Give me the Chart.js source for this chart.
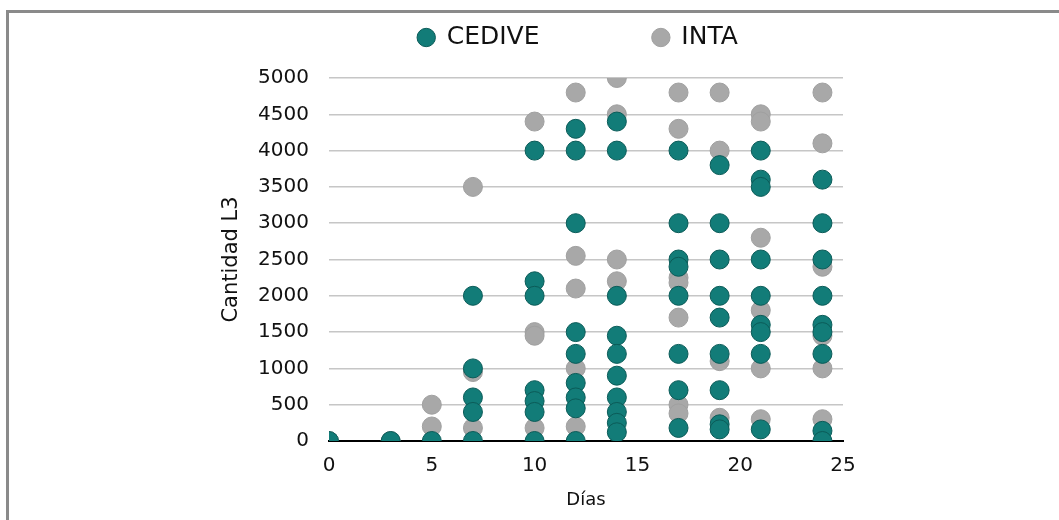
<!DOCTYPE html>
<html>
<head>
<meta charset="utf-8">
<script src="https://cdn.jsdelivr.net/npm/chart.js@4"></script>
<style>
  body { margin: 0; background: #fff; }
  #wrap { position: relative; width: 1059px; height: 520px; overflow: hidden; }
  #frame { position: absolute; left: 6px; top: 10px; right: -10px; bottom: -10px;
           border-top: 3px solid #8a8a8a; border-left: 3px solid #8a8a8a; pointer-events: none; }
</style>
</head>
<body>
<div id="wrap">
  <canvas id="chart-1"></canvas>
  <div id="frame"></div>
</div>
<script>
// ---------------------------- datos ----------------------------
// días de muestreo
const dias = [0, 3, 5, 7, 10, 12, 14, 17, 19, 21, 24];

// cantidad L3 por día (un array por día)
const cedive = [
  [0],
  [0],
  [0],
  [2000, 1000, 600, 400, 0],
  [4000, 2200, 2000, 700, 550, 400, 0],
  [4300, 4000, 3000, 1500, 1200, 800, 600, 450, 0],
  [4400, 4000, 2000, 1450, 1200, 900, 600, 400, 250, 120],
  [4000, 3000, 2500, 2400, 2000, 1200, 700, 180],
  [3800, 3000, 2500, 2000, 1700, 1200, 700, 230, 160],
  [4000, 3600, 3500, 2500, 2000, 1600, 1500, 1200, 160],
  [3600, 3000, 2500, 2000, 1600, 1500, 1200, 140, 0]
];

const inta = [
  [0],
  [0],
  [500, 200],
  [3500, 950, 180],
  [4400, 1500, 1450, 180],
  [4800, 2550, 2100, 1000, 200],
  [5000, 4500, 2500, 2200],
  [4800, 4300, 2250, 2180, 1700, 500, 380],
  [4800, 4000, 1100, 320],
  [4500, 4400, 2800, 1800, 1000, 300],
  [4800, 4100, 2400, 1450, 1000, 300]
];

const series = ['CEDIVE', 'INTA'];

// pasar a puntos {x, y}
function toPoints(valores) {
  let pts = [];
  for (let i = 0; i < dias.length; i++) {
    for (let j = 0; j < valores[i].length; j++) {
      pts.push({ x: dias[i], y: valores[i][j] });
    }
  }
  return pts;
}

const fuente = 'DejaVu Sans';

// mas aire entre la leyenda y el grafico
const legendMargin = {
  id: 'legendMargin',
  beforeInit(chart) {
    const fitValue = chart.legend.fit;
    chart.legend.fit = function fit() {
      fitValue.bind(chart.legend)();
      this.height += 18;
    };
  }
};

// ---------------------------- grafico ----------------------------
const ctx = document.getElementById('chart-1');
new Chart(ctx, {
  type: 'scatter',
  data: {
    datasets: [
      {
        label: series[0],
        data: toPoints(cedive),
        backgroundColor: '#127c78',
        borderColor: '#0b5b58',
        borderWidth: 1,
        pointRadius: 9.5,
        pointHoverRadius: 9.5
      },
      {
        label: series[1],
        data: toPoints(inta),
        backgroundColor: '#a8a8a8',
        borderColor: '#a0a0a0',
        borderWidth: 1,
        pointRadius: 9.5,
        pointHoverRadius: 9.5
      }
    ]
  },
  options: {
    responsive: true,
    maintainAspectRatio: false,
    animation: false,
    layout: { padding: { top: 7, left: 219, right: 216, bottom: 9 } },
    plugins: {
      tooltip: { enabled: false },
      legend: {
        position: 'top',
        fullSize: false,
        labels: {
          usePointStyle: true,
          pointStyle: 'circle',
          boxWidth: 16,
          boxHeight: 13,
          padding: 18,
          color: '#111',
          font: { family: fuente, size: 25 },
          generateLabels: function (chart) {
            const items = Chart.defaults.plugins.legend.labels.generateLabels(chart);
            // separacion entre las dos series
            items[0].text = items[0].text + '            ';
            items[1].text = items[1].text + '  ';
            return items;
          }
        }
      }
    },
    scales: {
      x: {
        type: 'linear',
        min: 0,
        max: 25,
        ticks: { stepSize: 5, padding: 13, color: '#111', font: { family: fuente, size: 20 } },
        grid: { display: false, drawTicks: false },
        border: { color: '#000', width: 2 },
        title: { display: true, text: 'Días', color: '#111', padding: 0, font: { family: fuente, size: 18 } },
        afterFit: function (scale) { scale.height = 70; }
      },
      y: {
        min: 0,
        max: 5000,
        ticks: { stepSize: 500, padding: 20, color: '#111', font: { family: fuente, size: 20 },
                 format: { useGrouping: false } },
        grid: { color: '#c6c6c6', lineWidth: 1.5, drawTicks: false },
        border: { display: false },
        title: { display: true, text: 'Cantidad L3', color: '#111', padding: 0, font: { family: fuente, size: 21 } },
        afterFit: function (scale) { scale.width = 110; }
      }
    }
  },
  plugins: [legendMargin]
});
</script>
</body>
</html>
